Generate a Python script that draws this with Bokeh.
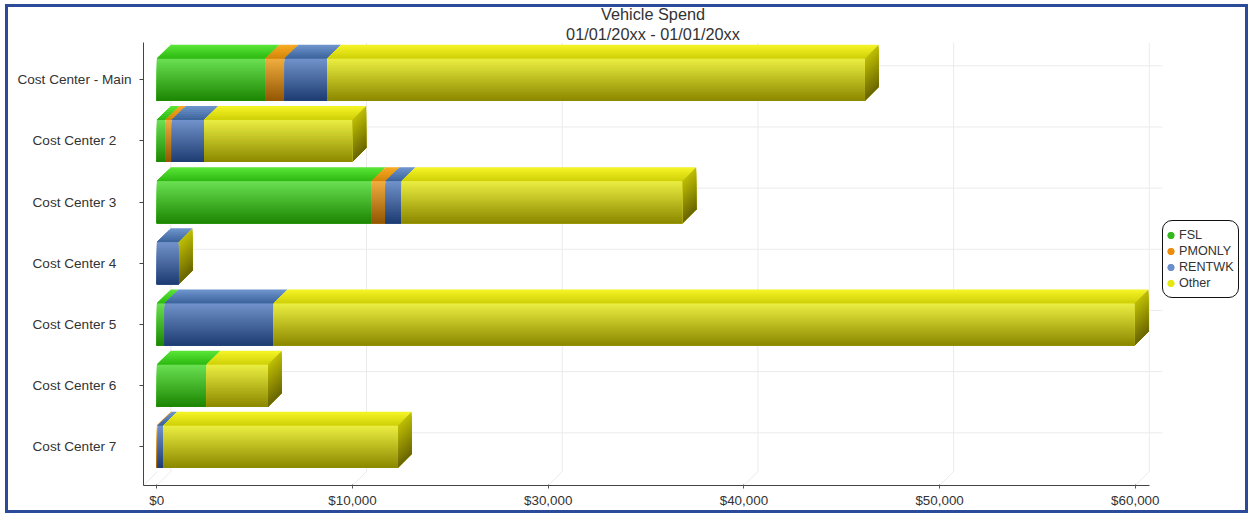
from bokeh.plotting import figure
from bokeh.embed import file_html
from bokeh.resources import INLINE
from bokeh.models import (Range1d, FixedTicker, Title, Legend, LegendItem, ColumnDataSource)

title_main = "Vehicle Spend"
title_sub = "01/01/20xx - 01/01/20xx"
categories = ["Cost Center - Main", "Cost Center 2", "Cost Center 3", "Cost Center 4",
              "Cost Center 5", "Cost Center 6", "Cost Center 7"]
series = ["FSL", "PMONLY", "RENTWK", "Other"]
fsl = [5555, 445, 10970, 0, 395, 2540, 0]
pmonly = [975, 320, 715, 0, 0, 0, 50]
rentwk = [2170, 1655, 820, 1110, 5570, 0, 275]
other = [27470, 7560, 14340, 0, 43990, 3130, 11980]
tick_positions = [0, 10000, 20000, 30000, 40000, 50000]
tick_labels = ["$0", "$10,000", "$30,000", "$40,000", "$50,000", "$60,000"]

FONT = "Liberation Sans"
PX_X = 195.7 / 10000
PX_Y = 61.17
DEPTH = 14
dx = DEPTH / PX_X
dy = DEPTH / PX_Y
HALF = 21 / PX_Y
STEPS = 21

front = {"FSL": ("#68de50", "#1e8804"), "PMONLY": ("#efab3e", "#955803"),
         "RENTWK": ("#6f90c8", "#1f3e74"), "Other": ("#e9ec40", "#8d8a00")}
topf = {"FSL": ("#58e336", "#30bb14"), "PMONLY": ("#f6a923", "#d58608"),
        "RENTWK": ("#6c92ca", "#3e669e"), "Other": ("#f2f224", "#d2d20a")}
side = ("#bcbc04", "#6c6800")
legend_colors = ["#35b81f", "#ee8c0e", "#6a8fca", "#e4e80e"]


def mix(a, b, t):
    ca = [int(a[i:i + 2], 16) for i in (1, 3, 5)]
    cb = [int(b[i:i + 2], 16) for i in (1, 3, 5)]
    return "#%02x%02x%02x" % tuple(int(round(u + (v - u) * t)) for u, v in zip(ca, cb))


FRAME_L, FRAME_R, FRAME_T, FRAME_B = 143, 1162, 42, 485
FIRST_ROW = 79.3
x0 = -(156.3 - FRAME_L) / PX_X
x1 = x0 + (FRAME_R - FRAME_L) / PX_X
y_top = -(FIRST_ROW - FRAME_T) / PX_Y
y_bottom = (FRAME_B - FIRST_ROW) / PX_Y

p = figure(width=1249, height=518, output_backend="svg", toolbar_location=None,
           x_range=Range1d(x0, x1), y_range=Range1d(y_bottom, y_top),
           frame_width=FRAME_R - FRAME_L, frame_height=FRAME_B - FRAME_T,
           min_border_left=FRAME_L, min_border_right=0, min_border_bottom=33,
           min_border_top=FRAME_T,
           outline_line_color=None, title=title_main, title_location="above")
p.stylesheets = [":host{position:relative}"
                 ":host::after{content:'';position:absolute;left:4.5px;top:3.5px;width:1237.5px;height:503px;"
                 "border:3px solid #2c4a9a;pointer-events:none;z-index:10;box-sizing:content-box}"
                 ":host::before{content:'';position:absolute;left:1162px;top:220px;width:75px;height:76px;"
                 "border:1px solid #111111;border-radius:10px;pointer-events:none;z-index:10;"
                 "box-sizing:content-box}"]
p.grid.visible = False
p.title.align = "center"
p.title.text_font = FONT
p.title.text_font_size = "16.3px"
p.title.text_font_style = "normal"
p.title.text_color = "#333333"
p.title.standoff = -1
sub = Title(text=title_sub, align="center", text_font=FONT, text_font_size="16.3px",
            text_font_style="normal", text_color="#333333", standoff=0)
p.add_layout(sub, "above")

# x axis
ax = p.xaxis[0]
ax.ticker = FixedTicker(ticks=tick_positions)
ax.major_label_overrides = dict(zip(tick_positions, tick_labels))
ax.major_label_text_font = FONT
ax.major_label_text_font_size = "13.4px"
ax.major_label_text_color = "#333333"
ax.major_label_standoff = 4
ax.major_tick_in = 1
ax.major_tick_out = 3
ax.minor_tick_line_color = None
ax.axis_line_color = "#444444"
ax.major_tick_line_color = "#555555"
ax.bounds = (x0, (1149 - 156.3) / PX_X)

# y axis: names end with no-break spaces, which centres the short ones on the long one
ay = p.yaxis[0]
ticks_y = list(range(len(categories)))
longest = max(len(c) for c in categories)
ay.ticker = FixedTicker(ticks=ticks_y)
ay.major_label_overrides = {i: c + ("" if len(c) == longest else "\u00a0" * 4)
                            for i, c in zip(ticks_y, categories)}
ay.major_label_text_font = FONT
ay.major_label_text_font_size = "13.6px"
ay.major_label_text_color = "#333333"
ay.major_label_standoff = 8
ay.major_tick_in = 0
ay.major_tick_out = 4
ay.minor_tick_line_color = None
ay.axis_line_color = "#444444"
ay.major_tick_line_color = "#444444"

# grid of the back wall
grid_xs, grid_ys = [], []
y_floor = y_bottom - dy
for t in tick_positions:
    grid_xs.append([t, t + dx, t + dx])
    grid_ys.append([y_bottom, y_floor, y_top])
grid_xs.append([x0, x0 + dx])
grid_ys.append([y_bottom, y_floor])
for i in range(len(categories)):
    grid_xs.append([0, dx, x1])
    grid_ys.append([i, i - dy, i - dy])
p.multi_line(grid_xs, grid_ys, line_color="#ebebeb", line_width=1)

# bars: every face is a stack of thin slices, so the gradient comes from data coordinates
q = dict(left=[], right=[], top=[], bottom=[], color=[])
f = dict(xs=[], ys=[], color=[])
values = [fsl, pmonly, rentwk, other]
for i in range(len(categories)):
    start = 0
    yt, yb = i - HALF, i + HALF
    for name, vals in zip(series, values):
        v = vals[i]
        if v <= 0:
            continue
        end = start + v
        for s in range(STEPS):
            t = s / (STEPS - 1)
            q["left"].append(start)
            q["right"].append(end)
            q["top"].append(yt + (yb - yt) * s / STEPS)
            q["bottom"].append(yb)
            q["color"].append(mix(front[name][0], front[name][1], t))
        for s in range(7):
            t = s / 6
            d = 1 - s / 7
            f["xs"].append([start + dx * d, end + dx * d, end, start])
            f["ys"].append([yt - dy * d, yt - dy * d, yt, yt])
            f["color"].append(mix(topf[name][0], topf[name][1], t))
        start = end
    for s in range(STEPS):
        t = s / (STEPS - 1)
        ya = yt + (yb - yt) * s / STEPS
        f["xs"].append([start, start + dx, start + dx, start])
        f["ys"].append([ya, ya - dy, yb - dy, yb])
        f["color"].append(mix(side[0], side[1], t))

p.patches("xs", "ys", source=ColumnDataSource(f), fill_color="color", line_color=None)
p.quad(left="left", right="right", top="top", bottom="bottom", source=ColumnDataSource(q),
       fill_color="color", line_color=None)

# legend
items = []
for name, col in zip(series, legend_colors):
    r = p.scatter([float("nan")], [float("nan")], marker="circle", size=7,
                  fill_color=col, line_color=col)
    items.append(LegendItem(label=name, renderers=[r]))
leg = Legend(items=items, location=(0, FRAME_B - 291), orientation="vertical",
             label_text_font=FONT, label_text_font_size="12.6px", label_text_color="#333333",
             label_height=16, glyph_height=16, glyph_width=17, label_standoff=0,
             spacing=0, padding=0, margin=0, border_line_color=None,
             background_fill_alpha=0)
p.add_layout(leg, "right")

open("out.html", "w").write(file_html(p, INLINE))
